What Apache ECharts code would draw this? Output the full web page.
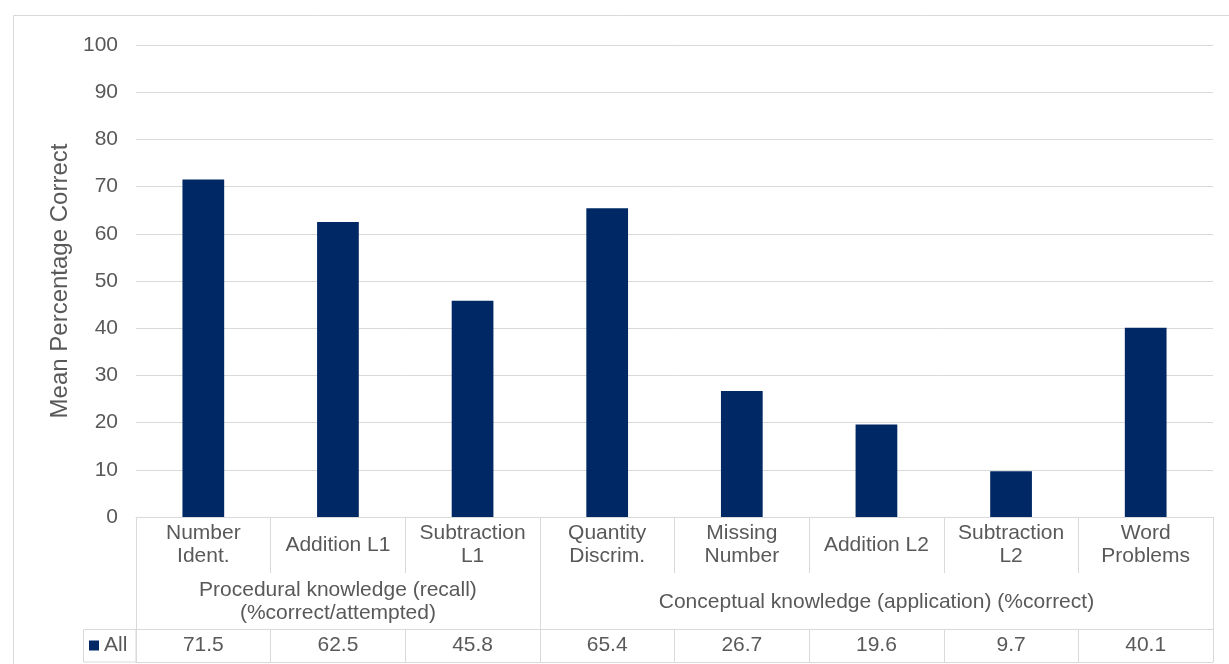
<!DOCTYPE html>
<html>
<head>
<meta charset="utf-8">
<style>
  html, body { margin: 0; padding: 0; background: #fff; }
  #chart { width: 1229px; height: 664px; }
</style>
<script src="https://cdn.jsdelivr.net/npm/echarts@6/dist/echarts.min.js"></script>
</head>
<body>
<div id="chart"></div>
<script>
const categories = [
  "Number\nIdent.", "Addition L1", "Subtraction\nL1", "Quantity\nDiscrim.",
  "Missing\nNumber", "Addition L2", "Subtraction\nL2", "Word\nProblems"
];
const groupLabels = [
  "Procedural knowledge (recall)\n(%correct/attempted)",
  "Conceptual knowledge (application) (%correct)"
];
const groupSizes = [3, 5];
const allValues = [71.5, 62.5, 45.8, 65.4, 26.7, 19.6, 9.7, 40.1];
const yTicks = { min: 0, max: 100, interval: 10 };

const font = "'Liberation Sans', Arial, sans-serif";
const textColor = "#595959";
const lineColor = "#d9d9d9";
const barColor = "#002865";

// where each group starts and where its label sits
const groupStarts = [];
const groupCenters = {};
let acc = 0;
groupSizes.forEach((n, i) => {
  groupStarts.push(acc);
  groupCenters[acc + Math.floor(n / 2)] = groupLabels[i];
  acc += n;
});

const chart = echarts.init(document.getElementById("chart"));

const grid = { left: 136, right: 16, top: 45, bottom: 147 };

chart.setOption({
  animation: false,
  textStyle: { fontFamily: font },
  grid: grid,
  legend: {
    data: ["All"],
    left: 89,
    top: 635,
    padding: 0,
    icon: "rect",
    itemWidth: 10,
    itemHeight: 10,
    textStyle: { fontSize: 21, color: textColor, fontFamily: font },
  },
  graphic: [
    {
      type: "rect",
      z: -1,
      shape: { x: 13.5, y: 15.5, width: 1300, height: 700 },
      style: { fill: "none", stroke: lineColor, lineWidth: 1 },
    },
    {
      type: "rect",
      shape: { x: 83.5, y: 629.5, width: 52.5, height: 32.5 },
      style: { fill: "none", stroke: lineColor, lineWidth: 1 },
    },
  ],
  xAxis: [
    {
      type: "category",
      position: "bottom",
      data: categories,
      axisLine: { onZero: false, lineStyle: { color: lineColor } },
      axisTick: { show: true, length: 56, interval: 0, lineStyle: { color: lineColor } },
      axisLabel: {
        interval: 0,
        margin: 28,
        verticalAlign: "middle",
        lineHeight: 23,
        fontSize: 21,
        color: textColor,
        fontFamily: font,
      },
    },
    {
      type: "category",
      position: "bottom",
      offset: 56,
      data: categories,
      axisLine: { show: false, onZero: false },
      axisTick: {
        show: true,
        length: 56,
        interval: (i) => groupStarts.indexOf(i) >= 0,
        lineStyle: { color: lineColor },
      },
      axisLabel: {
        interval: 0,
        margin: 29,
        verticalAlign: "middle",
        lineHeight: 23,
        fontSize: 21,
        color: textColor,
        fontFamily: font,
        formatter: (v, i) => groupCenters[i] || "",
      },
    },
    {
      type: "category",
      position: "bottom",
      offset: 112,
      data: allValues.map((v) => v.toFixed(1)),
      axisLine: { onZero: false, lineStyle: { color: lineColor } },
      axisTick: { show: true, length: 33, interval: 0, lineStyle: { color: lineColor } },
      axisLabel: {
        interval: 0,
        margin: 16.5,
        verticalAlign: "middle",
        fontSize: 21,
        color: textColor,
        fontFamily: font,
      },
    },
    {
      type: "category",
      position: "bottom",
      offset: 145,
      data: categories,
      axisLine: { onZero: false, lineStyle: { color: lineColor } },
      axisTick: { show: false },
      axisLabel: { show: false },
    },
  ],
  yAxis: {
    type: "value",
    min: yTicks.min,
    max: yTicks.max,
    interval: yTicks.interval,
    name: "Mean Percentage Correct",
    nameLocation: "middle",
    nameRotate: 90,
    nameGap: 62,
    nameTextStyle: { fontSize: 24, color: textColor, fontFamily: font },
    axisLine: { show: false },
    axisTick: { show: false },
    axisLabel: { margin: 18, fontSize: 21, color: textColor, fontFamily: font },
    splitLine: { lineStyle: { color: lineColor, width: 1 } },
  },
  series: [
    {
      name: "All",
      type: "bar",
      xAxisIndex: 0,
      data: allValues,
      barWidth: "31%",
      itemStyle: { color: barColor },
    },
  ],
});
</script>
</body>
</html>
